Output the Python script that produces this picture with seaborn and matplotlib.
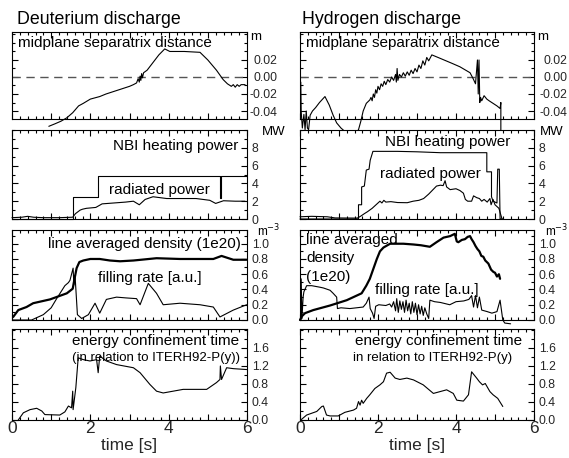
import matplotlib
matplotlib.use("Agg")
import matplotlib.pyplot as plt
import seaborn as sns
from matplotlib.ticker import MultipleLocator, FixedLocator, FuncFormatter

# ---------------- data (time [s], value) ----------------
D_SEP = [(0.94, -0.058), (1.10, -0.055), (1.25, -0.052), (1.40, -0.048), (1.55, -0.042),
         (1.70, -0.034), (1.82, -0.031), (2.00, -0.026), (2.24, -0.023), (2.40, -0.020),
         (2.60, -0.017), (2.80, -0.014), (3.00, -0.011), (3.10, -0.009), (3.18, -0.007),
         (3.22, -0.002), (3.25, -0.006), (3.27, 0.001), (3.29, -0.004), (3.31, 0.004),
         (3.33, -0.001), (3.36, 0.005), (3.45, 0.008), (3.60, 0.017), (3.75, 0.026),
         (3.90, 0.033), (4.03, 0.030), (4.40, 0.030), (4.80, 0.029), (5.00, 0.020),
         (5.22, 0.008), (5.39, -0.003), (5.50, -0.008), (5.60, -0.011), (5.65, -0.009),
         (5.70, -0.012), (5.75, -0.009), (5.80, -0.011), (5.85, -0.009), (5.95, -0.009)]

H_SEP = [(0.02, -0.006), (0.03, -0.040), (0.06, -0.060), (0.10, -0.044), (0.13, -0.062),
         (0.16, -0.040), (0.19, -0.060), (0.22, -0.062), (0.26, -0.045), (0.32, -0.040),
         (0.40, -0.036), (0.50, -0.030), (0.64, -0.023), (0.75, -0.033), (0.85, -0.045),
         (0.94, -0.054), (1.05, -0.060), (1.20, -0.066), (1.30, -0.069), (1.42, -0.066),
         (1.50, -0.062), (1.56, -0.052), (1.62, -0.040), (1.70, -0.031), (1.79, -0.027),
         (1.82, -0.024), (1.85, -0.028), (1.88, -0.020), (1.91, -0.024), (1.94, -0.015),
         (1.97, -0.019), (2.00, -0.011), (2.04, -0.015), (2.08, -0.008), (2.12, -0.011),
         (2.16, -0.005), (2.20, -0.009), (2.25, -0.003), (2.30, -0.006), (2.35, 0.000),
         (2.40, -0.004), (2.45, 0.003), (2.47, -0.006), (2.49, 0.010), (2.51, -0.004),
         (2.55, 0.003), (2.60, 0.000), (2.65, 0.005), (2.70, 0.001), (2.75, 0.006),
         (2.80, 0.002), (2.85, 0.008), (2.90, 0.004), (2.95, 0.010), (3.00, 0.006),
         (3.05, 0.014), (3.10, 0.010), (3.15, 0.019), (3.20, 0.014), (3.25, 0.023),
         (3.30, 0.019), (3.38, 0.026), (3.59, 0.022), (3.90, 0.016), (4.10, 0.012),
         (4.36, 0.005), (4.44, -0.002), (4.50, -0.008), (4.55, 0.020), (4.57, -0.020),
         (4.59, 0.020), (4.61, -0.030), (4.63, -0.024), (4.66, -0.028), (4.72, -0.022),
         (4.79, -0.026), (4.85, -0.028), (4.95, -0.031), (5.05, -0.034), (5.13, -0.037),
         (5.15, -0.030), (5.15, -0.088)]

D_NBI = [(0.0, 0.0), (1.55, 0.0), (1.55, 2.45), (2.20, 2.45), (2.20, 4.87), (5.31, 4.87),
         (5.31, 2.40), (5.33, 2.40), (5.33, 4.87), (6.0, 4.87)]

D_RAD = [(0.0, 0.15), (0.25, 0.2), (0.4, 0.3), (0.55, 0.2), (0.8, 0.15), (1.2, 0.15),
         (1.55, 0.2), (1.62, 0.6), (1.74, 1.0), (1.80, 1.1), (1.90, 1.2), (2.14, 1.3),
         (2.30, 1.7), (2.60, 1.8), (2.90, 1.9), (3.10, 2.0), (3.25, 1.6), (3.40, 2.2),
         (3.60, 2.5), (3.95, 2.3), (4.30, 2.3), (4.70, 2.3), (5.05, 2.1), (5.20, 1.75),
         (5.40, 2.05), (5.70, 2.0), (5.95, 2.0)]

H_NBI = [(0.0, 0.0), (1.50, 0.0), (1.50, 1.6), (1.58, 1.6), (1.58, 3.6), (1.65, 3.7),
         (1.70, 5.5), (1.77, 5.6), (1.80, 6.6), (1.87, 7.6), (2.50, 7.6), (3.00, 7.55),
         (3.60, 7.45), (4.79, 7.45), (4.79, 5.3), (4.91, 5.3), (4.91, 2.5), (4.95, 2.0),
         (5.05, 1.8), (5.07, 5.6), (5.11, 5.6), (5.13, 0.0), (5.22, 0.0)]

H_RAD = [(0.0, 0.25), (0.3, 0.3), (0.7, 0.25), (0.9, 0.12), (1.47, 0.1), (1.55, 0.3),
         (1.65, 0.6), (1.73, 0.82), (1.85, 1.2), (1.99, 1.76), (2.05, 2.0), (2.10, 1.8),
         (2.15, 2.1), (2.20, 1.9), (2.33, 1.95), (2.50, 1.85), (2.75, 1.83), (2.90, 2.0),
         (3.05, 2.1), (3.17, 2.3), (3.30, 2.8), (3.50, 3.7), (3.60, 3.8), (3.67, 3.75),
         (3.72, 4.3), (3.76, 3.6), (3.85, 3.3), (4.00, 3.4), (4.10, 3.2), (4.19, 2.9),
         (4.24, 2.2), (4.30, 2.0), (4.40, 2.0), (4.45, 2.6), (4.53, 2.4), (4.60, 2.3),
         (4.66, 2.0), (4.72, 2.2), (4.80, 1.9), (4.87, 2.3), (4.90, 1.6), (4.95, 2.2),
         (5.00, 1.6), (5.05, 1.4), (5.10, 1.2), (5.18, 0.0)]

D_DENS = [(0.03, 0.04), (0.16, 0.13), (0.37, 0.17), (0.54, 0.22), (0.97, 0.27), (1.40, 0.35),
          (1.55, 0.41), (1.60, 0.55), (1.65, 0.68), (1.72, 0.76), (1.82, 0.78), (2.00, 0.80),
          (2.24, 0.80), (2.50, 0.78), (2.76, 0.77), (3.10, 0.78), (3.69, 0.81), (4.29, 0.80),
          (5.14, 0.80), (5.35, 0.84), (5.65, 0.79), (5.99, 0.79)]

D_FILL = [(0.03, 0.0), (0.50, 0.0), (0.80, 0.07), (1.00, 0.16), (1.14, 0.28), (1.35, 0.45),
          (1.44, 0.49), (1.48, 0.52), (1.56, 0.68), (1.58, 0.46), (1.61, 0.58), (1.67, 0.07),
          (1.78, 0.02), (1.95, 0.07), (2.12, 0.22), (2.24, 0.09), (2.41, 0.27), (2.67, 0.30),
          (2.90, 0.29), (3.18, 0.28), (3.27, 0.20), (3.48, 0.48), (3.69, 0.35), (3.86, 0.20),
          (4.29, 0.22), (4.80, 0.20), (5.14, 0.17), (5.31, 0.04), (5.65, 0.13), (5.99, 0.20)]

H_DENS = [(0.0, 0.0), (0.05, 0.05), (0.13, 0.09), (0.34, 0.13), (0.77, 0.19), (1.20, 0.26),
          (1.58, 0.35), (1.70, 0.45), (1.79, 0.54), (1.97, 0.80), (2.05, 0.90), (2.14, 0.95),
          (2.31, 1.00), (2.65, 1.00), (2.91, 0.99), (3.10, 0.98), (3.33, 0.96), (3.50, 1.02),
          (3.68, 1.08), (3.85, 1.10), (3.97, 1.13), (4.02, 1.03), (4.06, 1.02), (4.15, 1.05),
          (4.23, 1.06), (4.30, 1.09), (4.36, 1.10), (4.40, 1.06), (4.45, 1.02), (4.50, 0.97),
          (4.55, 0.93), (4.60, 0.90), (4.65, 0.84), (4.70, 0.83), (4.75, 0.78), (4.83, 0.74),
          (4.90, 0.66), (4.96, 0.63), (5.00, 0.62), (5.05, 0.57), (5.10, 0.60), (5.13, 0.54)]

H_FILL = [(0.0, 0.0), (0.02, 0.0), (0.03, 0.54), (0.05, 0.02), (0.08, 0.30), (0.10, 0.37),
          (0.17, 0.45), (0.30, 0.45), (0.51, 0.43), (0.60, 0.42), (0.77, 0.39), (0.85, 0.35),
          (0.94, 0.30), (0.96, 0.15), (1.05, 0.16), (1.28, 0.15), (1.45, 0.16), (1.62, 0.17),
          (1.70, 0.22), (1.77, 0.30), (1.80, 0.15), (1.86, 0.09), (1.90, 0.02), (1.94, 0.18),
          (2.02, 0.20), (2.20, 0.19), (2.30, 0.21), (2.35, 0.17), (2.40, 0.24), (2.45, 0.12),
          (2.48, 0.28), (2.52, 0.10), (2.56, 0.25), (2.60, 0.14), (2.64, 0.24), (2.68, 0.10),
          (2.72, 0.26), (2.76, 0.12), (2.80, 0.22), (2.84, 0.08), (2.88, 0.24), (2.92, 0.10),
          (2.96, 0.22), (3.00, 0.07), (3.04, 0.20), (3.08, 0.08), (3.12, 0.18), (3.16, 0.06),
          (3.20, 0.16), (3.25, 0.08), (3.30, 0.02), (3.33, 0.26), (3.45, 0.24), (3.60, 0.23),
          (3.84, 0.20), (4.00, 0.24), (4.20, 0.25), (4.33, 0.27), (4.40, 0.32), (4.45, 0.17),
          (4.50, 0.32), (4.55, 0.16), (4.60, 0.30), (4.66, 0.13), (4.80, 0.11), (4.92, 0.09),
          (5.05, 0.11), (5.13, 0.26), (5.20, 0.0), (5.25, -0.04), (5.40, -0.05)]

D_TAU = [(0.16, 0.0), (0.29, 0.16), (0.46, 0.23), (0.63, 0.26), (0.76, 0.20), (0.84, 0.12),
         (1.22, 0.11), (1.35, 0.18), (1.44, 0.31), (1.52, 0.27), (1.55, 0.64), (1.56, 0.23),
         (1.63, 0.72), (1.69, 1.38), (1.82, 1.34), (1.99, 1.31), (2.16, 1.34), (2.20, 1.05),
         (2.24, 1.42), (2.41, 1.31), (2.67, 1.23), (3.10, 1.16), (3.27, 1.05), (3.52, 0.79),
         (3.69, 0.64), (3.86, 0.60), (4.37, 0.68), (4.97, 0.68), (5.22, 0.83), (5.31, 0.90),
         (5.32, 1.20), (5.35, 0.90), (5.48, 1.16), (5.65, 1.14), (5.99, 1.12)]

H_TAU = [(0.02, 0.0), (0.17, 0.11), (0.30, 0.15), (0.43, 0.19), (0.56, 0.30), (0.60, 0.31),
         (0.68, 0.11), (0.77, 0.09), (0.98, 0.09), (1.15, 0.17), (1.37, 0.22), (1.45, 0.26),
         (1.50, 0.41), (1.54, 0.33), (1.58, 0.44), (1.62, 0.37), (1.71, 0.48), (1.79, 0.56),
         (1.92, 0.70), (2.05, 0.78), (2.14, 0.85), (2.22, 1.04), (2.31, 1.06), (2.44, 0.93),
         (2.56, 0.90), (2.74, 0.93), (2.91, 0.89), (3.16, 0.78), (3.42, 0.59), (3.59, 0.63),
         (3.76, 0.67), (3.93, 0.59), (4.02, 0.44), (4.19, 0.42), (4.32, 0.56), (4.40, 1.07),
         (4.53, 0.93), (4.60, 0.85), (4.68, 0.78), (4.75, 0.81), (4.87, 0.63), (4.95, 0.56),
         (5.07, 0.48), (5.20, 0.30)]

TIME_TICKS = [0, 2, 4, 6]

# ---------------- layout ----------------
sns.set_style("white")
plt.rcParams["font.family"] = ["Liberation Sans", "DejaVu Sans"]
plt.rcParams["axes.edgecolor"] = "black"
plt.rcParams["axes.linewidth"] = 0.8
plt.rcParams["axes.unicode_minus"] = False

W, H = 569, 458
fig = plt.figure(figsize=(W / 100, H / 100), dpi=100)
fig.patch.set_facecolor("white")

COLS = [(12, 247), (300, 534)]
ROWS = [(32, 119), (130, 219), (230, 320), (329, 420)]


def ax_at(c, r):
    x0, x1 = COLS[c]
    y0, y1 = ROWS[r]
    return fig.add_axes([x0 / W, 1 - y1 / H, (x1 - x0) / W, (y1 - y0) / H])


def ftext(x, y, s, size, ha="left", va="baseline", **kw):
    fig.text(x / W, 1 - y / H, s, fontsize=size, ha=ha, va=va, color="black", **kw)


def draw(ax, pts, lw=0.8):
    t = [p[0] for p in pts]
    v = [p[1] for p in pts]
    sns.lineplot(x=t, y=v, ax=ax, color="black", linewidth=lw, sort=False,
                 estimator=None, legend=False)
    ax.lines[-1].set_clip_on(False)


def style(ax, ylim, yticks, yminor, fmt, bottom, neg_right=False, col=0):
    ax.set_facecolor("white")
    ax.set_xlim(0, 6)
    ax.set_ylim(*ylim)
    ax.xaxis.set_major_locator(MultipleLocator(1))
    ax.xaxis.set_minor_locator(MultipleLocator(0.2))
    ax.yaxis.set_major_locator(FixedLocator(yticks))
    ax.yaxis.set_minor_locator(MultipleLocator(yminor))
    ax.yaxis.set_major_formatter(FuncFormatter(fmt))
    ax.tick_params(which="both", direction="in", top=True, bottom=True, left=True,
                   right=True, labelleft=False, labelright=True, labelbottom=bottom,
                   color="black", width=0.8)
    ax.tick_params(which="major", length=4)
    ax.tick_params(which="minor", length=2)
    ax.tick_params(axis="y", labelsize=8.8, pad=3.5)
    if neg_right:
        ax.tick_params(axis="y", pad=22 if col == 0 else 24)
        for lab in ax.get_yticklabels():
            lab.set_horizontalalignment("right")
    if bottom:
        ax.xaxis.set_major_formatter(FuncFormatter(
            lambda v, p: str(int(round(v))) if int(round(v)) in TIME_TICKS else ""))
        ax.tick_params(axis="x", labelsize=12.5, pad=0.5)
        ax.set_xlabel("time [s]", fontsize=12.5, labelpad=2)
    else:
        ax.set_xlabel("")
    ax.set_ylabel("")
    for s in ax.spines.values():
        s.set_visible(True)
        s.set_color("black")
        s.set_linewidth(0.8)


fmt2 = lambda v, p: f"{v:.2f}"
fmt0 = lambda v, p: f"{v:.0f}"
fmt1 = lambda v, p: f"{v:.1f}"

datasets = [
    (D_SEP, D_NBI, D_RAD, D_DENS, D_FILL, D_TAU),
    (H_SEP, H_NBI, H_RAD, H_DENS, H_FILL, H_TAU),
]

for c, (sep, nbi, rad, dens, fill, tau) in enumerate(datasets):
    a1 = ax_at(c, 0)
    a1.axhline(0, color="#555555", lw=1.0, ls=(0, (6, 4)))
    draw(a1, sep)
    style(a1, (-0.0494, 0.0529), [-0.04, -0.02, 0.0, 0.02], 0.01, fmt2, False,
          neg_right=True, col=c)

    a2 = ax_at(c, 1)
    draw(a2, nbi)
    draw(a2, rad)
    style(a2, (0, 10.0), [0, 2, 4, 6, 8], 1, fmt0, False)

    a3 = ax_at(c, 2)
    draw(a3, dens, lw=1.6)
    draw(a3, fill)
    style(a3, (0, 1.18), [0, 0.2, 0.4, 0.6, 0.8, 1.0], 0.1, fmt1, False)

    a4 = ax_at(c, 3)
    draw(a4, tau)
    style(a4, (0, 2.02), [0, 0.4, 0.8, 1.2, 1.6], 0.2, fmt1, True)

# ---------------- texts ----------------
ftext(17, 23.5, "Deuterium discharge", 12.8)
ftext(302, 23.5, "Hydrogen discharge", 12.8)

ftext(18, 47, "midplane separatrix distance", 11)
ftext(306, 47, "midplane separatrix distance", 11)

ftext(238, 150, "NBI heating power", 11, ha="right")
ftext(159, 194, "radiated power", 11, ha="center")
ftext(448, 146, "NBI heating power", 11, ha="center")
ftext(430, 178, "radiated power", 11, ha="center")

ftext(241, 248, "line averaged density (1e20)", 11, ha="right")
ftext(150, 282, "filling rate [a.u.]", 11, ha="center")
ftext(306, 244, "line averaged", 11)
ftext(306, 262, "density", 11)
ftext(306, 281, "(1e20)", 11)
ftext(427, 294, "filling rate [a.u.]", 11, ha="center")

ftext(156, 345, "energy confinement time", 11, ha="center")
ftext(156, 361, "(in relation to ITERH92-P(y))", 9.5, ha="center")
ftext(439, 345, "energy confinement time", 11, ha="center")
ftext(433, 361, "in relation to ITERH92-P(y)", 9.5, ha="center")

for x0 in (250, 537):
    ftext(x0, 40, "m", 9.5)
for x0 in (262, 540):
    ftext(x0, 135, "MW", 9.5)
for x0 in (257, 545):
    ftext(x0, 236, "m$^{-3}$", 8.5)

fig.savefig("out.png", dpi=100, facecolor="white")
